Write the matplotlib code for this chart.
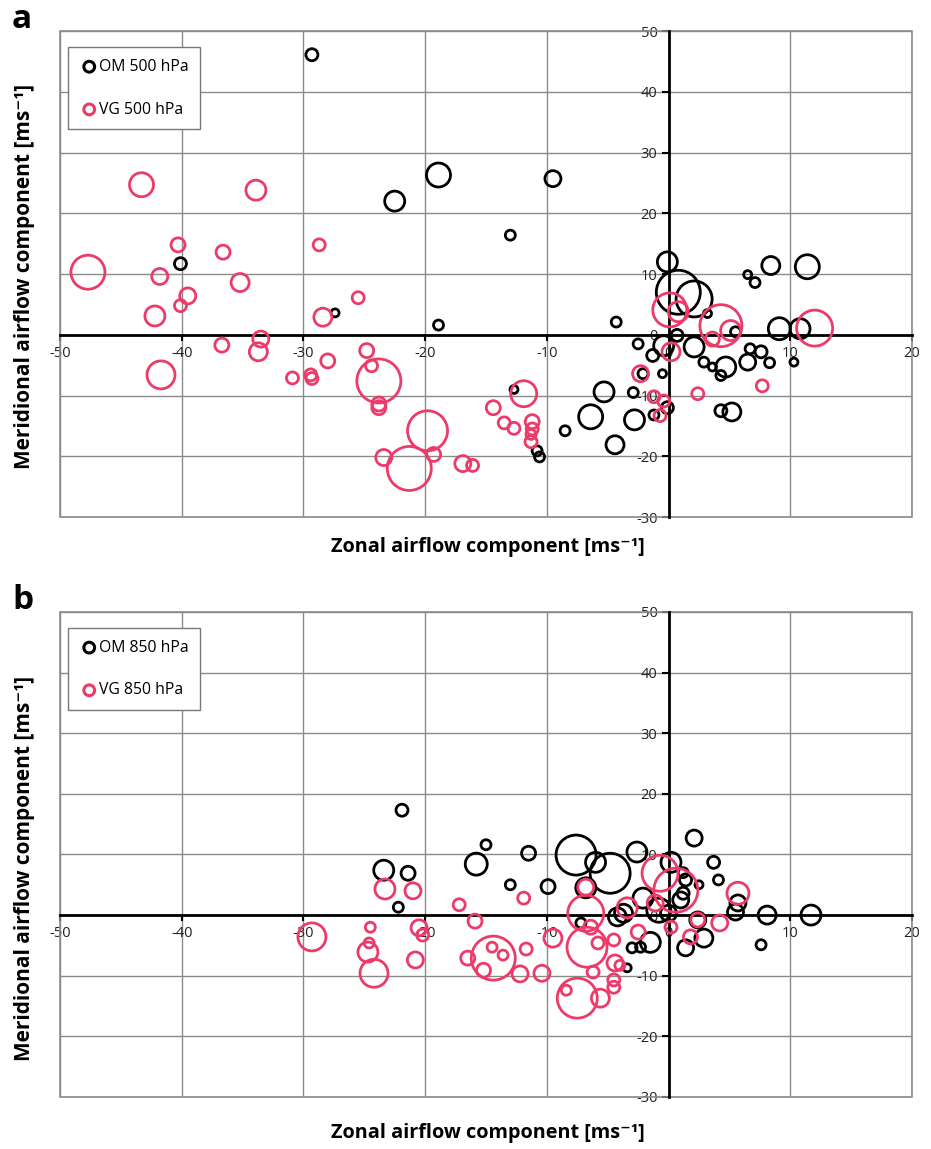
import matplotlib
matplotlib.use('Agg')
import matplotlib.pyplot as plt
import numpy as np

plt.rcParams['axes.unicode_minus'] = False

# Panel a: 500 hPa (zonal, meridional, bubble size)
om500_x = [-29.3, -22.5, -18.9, -40.1, -9.5, -13.0, -0.1, 8.4, 11.4, 6.5, 7.1, 0.8, 2.1,
           -4.3, 3.2, 5.5, 9.1, 10.8, 0.7, -2.5, -0.4, 2.1, -1.3, 2.9, 3.6, 4.7, 4.3,
           6.5, 6.7, 7.6, 8.3, 10.3, -2.1, -0.5, -5.3, -2.9, -12.7, -6.4, -2.8, -1.2,
           -0.1, 4.3, 5.2, -8.5, -4.4, -10.8, -10.6, -27.4, -18.9]
om500_y = [46.1, 22.0, 26.3, 11.7, 25.7, 16.4, 12.0, 11.4, 11.2, 9.9, 8.6, 7.0, 5.9,
           2.1, 3.5, 0.5, 1.0, 1.0, -0.1, -1.5, -1.8, -2.0, -3.4, -4.5, -5.3, -5.3, -6.7,
           -4.5, -2.3, -2.8, -4.6, -4.5, -6.4, -6.4, -9.4, -9.5, -9.0, -13.5, -14.0, -13.2,
           -12.0, -12.5, -12.7, -15.8, -18.1, -19.1, -20.1, 3.6, 1.6]
om500_s = [6, 10, 12, 6, 8, 5, 10, 9, 12, 4, 5, 22, 18,
           5, 4, 5, 11, 10, 6, 5, 10, 10, 6, 5, 4, 10, 5,
           8, 5, 6, 5, 4, 5, 4, 10, 5, 4, 12, 10, 5,
           6, 6, 9, 5, 9, 5, 5, 4, 5]

vg500_x = [-43.3, -33.9, -28.7, -40.3, -36.6, -47.7, -41.8, -35.2, -39.5, -40.1, -42.2,
           -25.5, -28.4, -33.5, -33.7, -36.7, -41.7, -30.9, -29.4, -29.3, -28.0, -24.8,
           -24.4, -23.8, -23.8, -23.8, -19.8, -21.3, -23.4, -19.3, -16.9, -16.1, -14.4,
           -13.5, -12.7, -11.9, -11.2, -11.2, -11.3, -11.3, 0.1, 0.8, 4.3, 5.1, 3.6, 12.0,
           0.2, -2.3, -1.2, -0.4, -0.7, 2.4, 7.7]
vg500_y = [24.7, 23.8, 14.8, 14.8, 13.6, 10.3, 9.6, 8.6, 6.4, 4.8, 3.1,
           6.1, 2.9, -0.7, -2.8, -1.7, -6.6, -7.1, -6.6, -7.2, -4.3, -2.6,
           -5.1, -7.6, -11.4, -12.0, -15.8, -22.0, -20.2, -19.7, -21.2, -21.5, -12.0,
           -14.5, -15.4, -9.7, -14.3, -15.5, -16.4, -17.6, 4.1, 3.8, 1.5, 0.7, -0.7, 1.1,
           -2.8, -6.4, -10.2, -10.9, -13.3, -9.7, -8.4]
vg500_s = [12, 10, 6, 7, 7, 17, 8, 9, 8, 6, 10,
           6, 9, 8, 9, 7, 14, 6, 6, 6, 7, 7,
           6, 22, 7, 7, 20, 22, 8, 7, 8, 6, 7,
           6, 6, 13, 7, 6, 5, 6, 17, 10, 21, 10, 7, 18,
           9, 8, 6, 6, 6, 6, 6]

# Panel b: 850 hPa
om850_x = [-21.9, -23.4, -21.4, -22.2, -15.8, -15.0, -11.5, -13.0, -9.9, -7.6, -4.8,
           -6.0, -2.6, -6.8, 0.2, 2.1, 3.7, 4.1, 1.4, 2.5, 5.7, 5.5, 8.1, 11.7, 7.6,
           -1.5, -3.0, -2.3, 1.4, 2.9, -2.1, 1.0, 1.2, 0.0, -3.7, -4.2, -7.2, -3.4,
           1.2, 2.4, -0.8]
om850_y = [17.3, 7.4, 6.9, 1.3, 8.4, 11.6, 10.2, 5.0, 4.7, 9.9, 6.9,
           8.7, 10.4, 4.5, 8.7, 12.7, 8.7, 5.8, 5.8, 5.0, 2.0, 0.5, 0.0, 0.0, -4.9,
           -4.5, -5.4, -5.3, -5.4, -3.8, 2.8, 2.5, 3.6, 0.3, 0.3, -0.3, -1.3, -8.7,
           7.0, -0.8, 0.8]
om850_s = [6, 10, 7, 5, 11, 5, 7, 5, 7, 20, 20,
           10, 10, 10, 10, 8, 6, 5, 6, 4, 8, 8, 9, 10, 5,
           10, 5, 5, 8, 9, 10, 8, 6, 8, 9, 9, 5, 4,
           5, 8, 12]

vg850_x = [-23.3, -21.0, -17.2, -15.9, -29.3, -24.5, -24.6, -24.7, -24.2, -20.5, -20.2,
           -20.8, -16.5, -15.2, -14.4, -14.5, -13.6, -12.2, -10.4, -11.7, -11.9, -9.5,
           -6.8, -6.8, -6.7, -6.4, -5.8, -4.5, -4.4, -4.5, -3.4, -2.5, -0.7, 0.6, -1.1,
           0.2, 1.8, 2.4, 4.2, 5.7, -7.5, -8.4, -5.6, -4.5, -4.0, -6.2]
vg850_y = [4.3, 4.0, 1.7, -1.0, -3.6, -2.0, -4.6, -6.1, -9.6, -2.1, -3.3,
           -7.4, -7.1, -9.1, -7.1, -5.3, -6.6, -9.7, -9.6, -5.6, 2.8, -3.8,
           4.6, 0.3, -5.3, -2.0, -4.6, -4.1, -7.9, -10.7, 1.2, -2.8, 6.9, 4.1, 2.0,
           -2.0, -3.6, -0.8, -1.3, 3.6, -13.7, -12.4, -13.7, -11.9, -8.3, -9.4]
vg850_s = [10, 8, 6, 7, 14, 5, 5, 10, 14, 8, 6,
           8, 7, 7, 22, 5, 5, 8, 8, 6, 6, 9,
           8, 18, 20, 7, 6, 6, 8, 6, 10, 7, 18, 22, 8,
           6, 7, 7, 8, 11, 20, 5, 9, 6, 5, 6]

xticks = [-50, -40, -30, -20, -10, 0, 10, 20]
yticks = [-30, -20, -10, 0, 10, 20, 30, 40, 50]

om_color = 'black'
vg_color = '#ED3B69'
label_font = ['Open Sans', 'DejaVu Sans']


def bubble_area(sizes):
    # bubble size value -> marker area in points^2 (figure saved at 100 dpi)
    return (2 * np.array(sizes) * 0.72) ** 2


def draw_panel(ax, om, vg, level):
    ax.scatter(om[0], om[1], s=bubble_area(om[2]), facecolors='none',
               edgecolors=om_color, linewidths=2.0, zorder=3)
    ax.scatter(vg[0], vg[1], s=bubble_area(vg[2]), facecolors='none',
               edgecolors=vg_color, linewidths=2.0, zorder=4)

    ax.set_xlim(-50, 20)
    ax.set_ylim(-30, 50)
    ax.set_xticks(xticks)
    ax.set_yticks(yticks)

    # axes crossing at the origin, like Excel
    ax.spines['left'].set_position(('data', 0))
    ax.spines['bottom'].set_position(('data', 0))
    ax.spines['top'].set_visible(False)
    ax.spines['right'].set_visible(False)
    for side in ['left', 'bottom']:
        ax.spines[side].set_linewidth(2.0)
        ax.spines[side].set_zorder(2)

    ax.grid(True, color='#8a8a8a', linewidth=1.0, zorder=0)
    ax.set_axisbelow(True)
    ax.add_patch(plt.Rectangle((-50, -30), 70, 80, fill=False, edgecolor='#8a8a8a',
                               linewidth=1.2, zorder=1, clip_on=False))

    ax.tick_params(axis='x', direction='out', length=4, width=1.5, pad=4,
                   labelsize=10.5, labelcolor='#222222')
    ax.tick_params(axis='y', direction='out', length=5, width=1.5, pad=3,
                   labelsize=10.5, labelcolor='#222222')
    for lab in ax.get_xticklabels() + ax.get_yticklabels():
        lab.set_fontfamily(label_font)

    # legend handles
    h1 = ax.scatter([], [], s=60, facecolors='none', edgecolors=om_color, linewidths=2.2)
    h2 = ax.scatter([], [], s=60, facecolors='none', edgecolors=vg_color, linewidths=2.2)
    leg = ax.legend([h1, h2], [f'OM {level} hPa', f'VG {level} hPa'], loc='upper left',
                    bbox_to_anchor=(0.0095, 0.967), fancybox=False, framealpha=1,
                    edgecolor='#777777', handletextpad=0.0, labelspacing=1.7,
                    handlelength=1.2, borderpad=0.75, borderaxespad=0.0,
                    prop={'family': label_font, 'size': 11.3})
    leg.get_frame().set_linewidth(1.0)
    leg.set_zorder(10)


fig = plt.figure(figsize=(9.31, 11.49), dpi=100)
ax_a = fig.add_axes([0.0644, 0.550, 0.9152, 0.423])
ax_b = fig.add_axes([0.0644, 0.0453, 0.9152, 0.4221])

draw_panel(ax_a, (om500_x, om500_y, om500_s), (vg500_x, vg500_y, vg500_s), 500)
draw_panel(ax_b, (om850_x, om850_y, om850_s), (vg850_x, vg850_y, vg850_s), 850)

# panel letters
fig.text(0.013, 0.997, 'a', fontsize=24, fontweight='bold', family=label_font, va='top')
fig.text(0.013, 0.492, 'b', fontsize=24, fontweight='bold', family=label_font, va='top')

# axis titles
for ypos in [0.524, 0.0135]:
    fig.text(0.524, ypos, 'Zonal airflow component [ms⁻¹]', ha='center', va='center',
             fontsize=14.3, fontweight='bold', family=label_font)
for ypos in [0.759, 0.2446]:
    fig.text(0.026, ypos, 'Meridional airflow component [ms⁻¹]', rotation=90,
             ha='center', va='center', fontsize=15, fontweight='bold', family=label_font)

fig.savefig('out.png', dpi=100)
